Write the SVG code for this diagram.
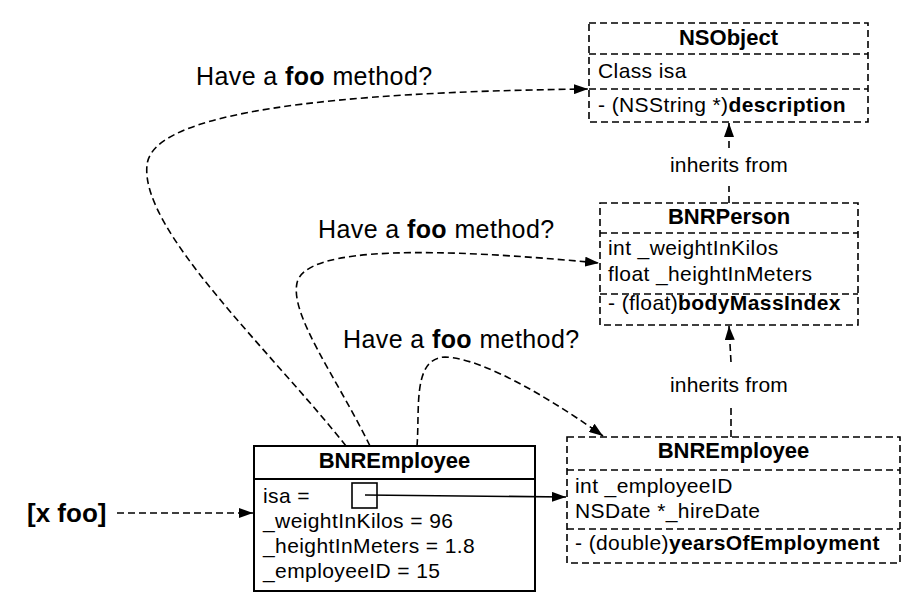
<svg xmlns="http://www.w3.org/2000/svg" width="920" height="611" viewBox="0 0 920 611">
<style>
text{font-family:"Liberation Sans",Arial,Helvetica,sans-serif;fill:#000}
.t{font-size:22px;font-weight:bold;text-anchor:middle}
.m{font-size:21px;letter-spacing:0.4px}
.b{font-weight:bold}
.q{font-size:25px;letter-spacing:0.4px}
.inh{font-size:21px;letter-spacing:0.2px;text-anchor:middle}
.dbox{fill:#fff;stroke:#000;stroke-width:1.6;stroke-dasharray:7 4}
.dl{fill:none;stroke:#000;stroke-width:1.6;stroke-dasharray:7 4}
.sbox{fill:#fff;stroke:#000;stroke-width:2}
.sl{fill:none;stroke:#000;stroke-width:1.6}
</style>
<defs>
<marker id="ah" viewBox="0 0 14 10" refX="14" refY="5" markerWidth="14" markerHeight="10" orient="auto" markerUnits="userSpaceOnUse">
<path d="M0,0 L14,5 L0,10 z" fill="#000" stroke="none"/>
</marker>
</defs>

<g id="nsobject">
<rect class="dbox" x="589" y="23" width="279" height="99"/>
<line class="dl" x1="589" y1="54" x2="868" y2="54"/>
<line class="dl" x1="589" y1="89" x2="868" y2="89"/>
<text class="t" x="728.5" y="45">NSObject</text>
<text class="m" x="598" y="78">Class isa</text>
<text class="m" x="598" y="112">- (NSString *)<tspan class="b">description</tspan></text>
</g>

<g id="bnrperson">
<rect class="dbox" x="600" y="203" width="258" height="122"/>
<line class="dl" x1="600" y1="233" x2="858" y2="233"/>
<line class="dl" x1="600" y1="294" x2="858" y2="294"/>
<text class="t" x="729" y="224">BNRPerson</text>
<text class="m" x="608" y="255">int _weightInKilos</text>
<text class="m" x="608" y="281">float _heightInMeters</text>
<text class="m" x="608" y="310">- (float)<tspan class="b">bodyMassIndex</tspan></text>
</g>

<g id="bnremployee-class">
<rect class="dbox" x="567" y="437" width="333" height="126"/>
<line class="dl" x1="567" y1="470" x2="900" y2="470"/>
<line class="dl" x1="567" y1="529" x2="900" y2="529"/>
<text class="t" x="733.5" y="458">BNREmployee</text>
<text class="m" x="575" y="493">int _employeeID</text>
<text class="m" x="575" y="518">NSDate *_hireDate</text>
<text class="m" x="575" y="550">- (double)<tspan class="b">yearsOfEmployment</tspan></text>
</g>

<g id="bnremployee-instance">
<rect class="sbox" x="254" y="446" width="281" height="145"/>
<line class="sl" x1="254" y1="479" x2="535" y2="479" style="stroke-width:2"/>
<text class="t" x="394.5" y="468">BNREmployee</text>
<text class="m" x="263" y="503">isa =</text>
<rect x="352" y="483" width="25" height="25" fill="none" stroke="#000" stroke-width="1.6"/>
<text class="m" x="263" y="528">_weightInKilos = 96</text>
<text class="m" x="263" y="553">_heightInMeters = 1.8</text>
<text class="m" x="263" y="578">_employeeID = 15</text>
</g>

<g id="connectors">
<path class="dl" d="M346 446 C 270 350, 140 230, 147 165 C 152 112, 330 92, 588 89" marker-end="url(#ah)"/>
<path class="dl" d="M370 446 C 335 375, 290 315, 297 283 C 305 245, 440 248, 599 263" marker-end="url(#ah)"/>
<path class="dl" d="M417 446 C 420 410, 412 358, 445 357 C 485 358, 560 405, 603 436" marker-end="url(#ah)"/>
<line class="dl" x1="117" y1="513" x2="253" y2="513" marker-end="url(#ah)"/>
<line class="sl" x1="365" y1="495" x2="566" y2="497" marker-end="url(#ah)"/>
<line class="dl" x1="729" y1="148" x2="729" y2="123" marker-end="url(#ah)"/>
<line class="dl" x1="729" y1="203" x2="729" y2="186"/>
<line class="dl" x1="731" y1="362" x2="729" y2="326" marker-end="url(#ah)"/>
<line class="dl" x1="731" y1="437" x2="731" y2="408"/>
<text class="inh" x="729" y="172">inherits from</text>
<text class="inh" x="729" y="392">inherits from</text>
<text class="q" x="196" y="85">Have a <tspan class="b">foo</tspan> method?</text>
<text class="q" x="318" y="238">Have a <tspan class="b">foo</tspan> method?</text>
<text class="q" x="343" y="348">Have a <tspan class="b">foo</tspan> method?</text>
<text x="27" y="522" style="font-size:26px;font-weight:bold">[x foo]</text>
</g>
</svg>
